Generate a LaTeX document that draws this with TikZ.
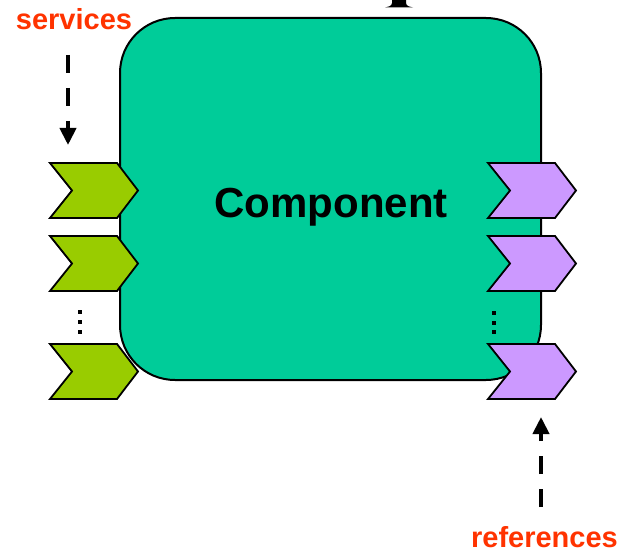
\documentclass[tikz,border=0pt]{standalone}
\usepackage{fontspec}
\setmainfont{Liberation Sans}
\usetikzlibrary{arrows.meta}
\definecolor{boxteal}{RGB}{0,204,153}
\definecolor{chevlime}{RGB}{153,204,0}
\definecolor{chevlilac}{RGB}{204,153,255}
\definecolor{labelred}{RGB}{255,51,0}
\newcommand*{\chevron}[3]{%
  \filldraw[chev,fill=#3] (#1,#2) -- ++(67,0) -- ++(21,27.5) -- ++(-21,27.5) -- ++(-67,0) -- ++(22,-27.5) -- cycle;}
\newcommand*{\vdot}[2]{\fill[black] (#1-2,#2-2) rectangle (#1+2,#2+2);}
\tikzset{
  chev/.style={draw=black,line width=1.8pt,line join=miter},
  wire/.style={line width=4pt,dash pattern=on 18pt off 15pt,-{Triangle[length=17pt,width=16pt]}},
  tag/.style={text=labelred,font=\bfseries\fontsize{29}{29}\selectfont,inner sep=0pt,anchor=base}
}
\begin{document}
\begin{tikzpicture}[x=1pt,y=-1pt]
                \useasboundingbox (0,0) rectangle (620,556);
                \fill[black] (392,0) -- (392,3) .. controls (392,6) and (388,7) .. (385,7.5) -- (413,7.5) .. controls (410,7) and (406,6) .. (406,3) -- (406,0) -- cycle;
                \filldraw[fill=boxteal,draw=black,line width=2pt,rounded corners=55pt] (120,18) rectangle (541,380);
                \node[inner sep=0pt,anchor=base,font=\bfseries\fontsize{42}{42}\selectfont] (comp) at (331,217) {Component};

                % provided side
                \chevron{50}{163}{chevlime}
                \chevron{50}{236}{chevlime}
                \chevron{50}{344}{chevlime}
                \vdot{80}{312} \vdot{80}{322} \vdot{80}{332}

                % required side
                \chevron{488}{163}{chevlilac}
                \chevron{488}{236}{chevlilac}
                \chevron{488}{344}{chevlilac}
                \vdot{494}{313} \vdot{494}{323} \vdot{494}{332}

                \node[tag] (services) at (74,30) {services};
                \node[tag] (references) at (544.5,547) {references};
                \coordinate (svcfrom) at (68,55);
                \coordinate (svcto) at (68,145);
                \coordinate (reffrom) at (541,507);
                \coordinate (refto) at (541,417);
                \draw[wire] (svcfrom)--(svcto);
                \draw[wire] (reffrom)--(refto);
\end{tikzpicture}
\end{document}
